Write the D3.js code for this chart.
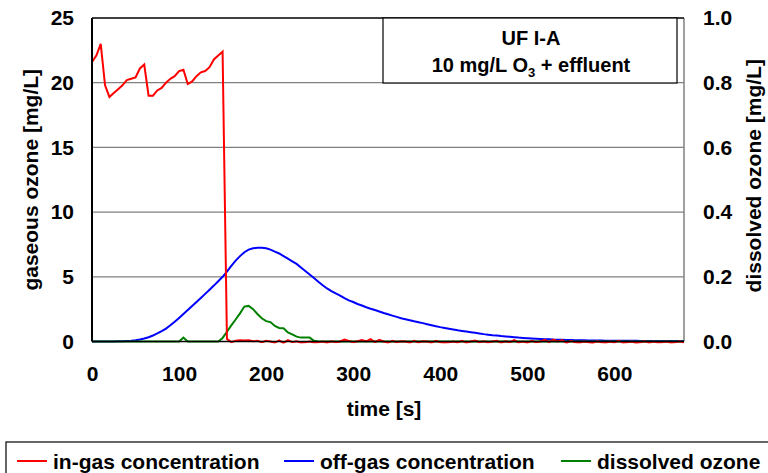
<!DOCTYPE html>
<html>
<head>
<meta charset="utf-8">
<script src="https://cdn.jsdelivr.net/npm/d3@7"></script>
<style>
  html, body { margin: 0; padding: 0; background: #fff; }
  svg { display: block; }
  text { font-family: "Liberation Sans", Arial, sans-serif; font-weight: bold; fill: #000; }
</style>
</head>
<body>
<svg id="chart" width="768" height="473"></svg>
<script>
// ---------- DATA ----------
const times = d3.range(0, 681, 5); // s, 5-second sampling

const inGas = [
  21.6, 22.1, 23.0, 19.8, 18.9, 19.2, 19.5, 19.8, 20.2, 20.3,
  20.4, 21.1, 21.4, 19.0, 19.0, 19.4, 19.6, 20.0, 20.3, 20.5,
  20.9, 21.0, 19.9, 20.1, 20.5, 20.8, 20.9, 21.2, 21.8, 22.1,
  22.4, 0.2,
  -0.05, 0.05, 0.1, 0.08, 0.1, 0.02, 0.05, -0.05, 0.05, 0.0,
  -0.1, 0.08, -0.12, 0.1, -0.05, 0.02, -0.1, -0.05, 0.0, -0.08,
  -0.05, 0.0, -0.1, 0.02, -0.05, 0.0, 0.15, 0.05, -0.05, 0.02,
  0.12, 0.0, 0.18, -0.05, 0.12, 0.0, -0.1, 0.05, -0.05, 0.02,
  0.0, -0.1, 0.05, -0.08, 0.02, 0.0, -0.1, 0.05, -0.05, -0.1,
  -0.05, 0.0, -0.08, 0.05, -0.1, 0.0, 0.08, -0.05, 0.02, -0.08,
  0.0, 0.05, -0.1, 0.02, -0.05, 0.1, -0.08, 0.0, -0.1, 0.05,
  -0.05, 0.0, 0.12, -0.05, 0.15, 0.0, 0.1, -0.1, 0.05, -0.05,
  -0.1, 0.0, -0.05, -0.12, 0.02, -0.05, -0.1, 0.0, -0.08, 0.05,
  -0.1, -0.05, 0.0, -0.12, -0.05, 0.02, -0.1, 0.0, -0.08, -0.05,
  0.0, -0.1, -0.05, 0.02, -0.08
];

const offGas = [
  0, 0, 0, 0, 0, 0, 0.01, 0.02, 0.04, 0.06,
  0.1, 0.15, 0.23, 0.33, 0.46, 0.62, 0.8, 1.0, 1.25, 1.52,
  1.82, 2.12, 2.43, 2.74, 3.05, 3.36, 3.68, 4.0, 4.32, 4.66,
  5.0, 5.4, 5.85, 6.25, 6.6, 6.9, 7.1, 7.2, 7.24, 7.24,
  7.2, 7.1, 6.95, 6.8, 6.6, 6.4, 6.2, 6.0, 5.72, 5.45,
  5.18, 4.9, 4.62, 4.35, 4.1, 3.9, 3.72, 3.55, 3.35, 3.18,
  3.05, 2.9, 2.78, 2.65, 2.53, 2.43, 2.32, 2.2, 2.1, 2.0,
  1.9, 1.8, 1.72, 1.64, 1.56, 1.49, 1.42, 1.34, 1.26, 1.18,
  1.11, 1.05, 0.99, 0.93, 0.87, 0.82, 0.77, 0.72, 0.67, 0.62,
  0.57, 0.53, 0.49, 0.46, 0.42, 0.39, 0.36, 0.33, 0.3, 0.28,
  0.26, 0.24, 0.22, 0.2, 0.18, 0.17, 0.15, 0.14, 0.13, 0.12,
  0.11, 0.1, 0.09, 0.09, 0.08, 0.08, 0.07, 0.07, 0.06, 0.06,
  0.06, 0.05, 0.05, 0.05, 0.05, 0.05, 0.04, 0.04, 0.04, 0.04,
  0.04, 0.03, 0.03, 0.03, 0.03, 0.03, 0.03
];

const dissolved = [
  0, 0, 0, 0, 0, 0, 0, 0, 0, 0,
  0, 0, 0, 0, 0, 0, 0, 0, 0, 0,
  0, 0.012, 0, 0, 0, 0, 0, 0, 0, 0,
  0.011, 0.03, 0.05, 0.068, 0.087, 0.108, 0.11, 0.1, 0.085, 0.072,
  0.063, 0.06, 0.048, 0.042, 0.041, 0.028, 0.022, 0.015, 0.012, 0.012,
  0.012, 0.002, 0, 0, 0, 0, 0, 0, 0, 0,
  0, 0, 0, 0, 0, 0, 0, 0, 0, 0,
  0, 0, 0, 0, 0, 0, 0, 0, 0, 0,
  0, 0, 0, 0, 0, 0, 0, 0, 0, 0,
  0, 0, 0, 0, 0, 0, 0, 0, 0, 0,
  0, 0, 0, 0, 0, 0, 0, 0, 0, 0,
  0, 0, 0, 0, 0, 0, 0, 0, 0, 0,
  0, 0, 0, 0, 0, 0, 0, 0, 0, 0,
  0, 0, 0, 0, 0, 0, 0
];

const xTicks = [0, 100, 200, 300, 400, 500, 600];
const yLeftTicks = [0, 5, 10, 15, 20, 25];
const yRightTicks = [0, 0.2, 0.4, 0.6, 0.8, 1.0];
const seriesNames = ["in-gas concentration", "off-gas concentration", "dissolved ozone"];
const seriesColors = ["#ff0000", "#0000ff", "#008000"];

// ---------- LAYOUT ----------
const plot = { left: 92, right: 684, top: 18, bottom: 341.5 };
const svg = d3.select("#chart");

const x = d3.scaleLinear().domain([0, 680]).range([plot.left, plot.right]);
const yL = d3.scaleLinear().domain([0, 25]).range([plot.bottom, plot.top]);
const yR = d3.scaleLinear().domain([0, 1.0]).range([plot.bottom, plot.top]);

// gridlines
svg.append("g").selectAll("line")
  .data(yLeftTicks.filter(v => v > 0 && v < 25))
  .join("line")
  .attr("x1", plot.left).attr("x2", plot.right)
  .attr("y1", d => yL(d)).attr("y2", d => yL(d))
  .attr("stroke", "#808080").attr("stroke-width", 1.2);

// plot border
svg.append("line").attr("x1", plot.right).attr("x2", plot.right)
  .attr("y1", plot.top).attr("y2", plot.bottom).attr("stroke", "#808080").attr("stroke-width", 1.5);
svg.append("line").attr("x1", plot.left).attr("x2", plot.right)
  .attr("y1", plot.top).attr("y2", plot.top).attr("stroke", "#000").attr("stroke-width", 1.5);

// axes
const axL = svg.append("g").attr("transform", `translate(${plot.left},0)`)
  .call(d3.axisLeft(yL).tickValues(yLeftTicks).tickSize(0).tickPadding(18).tickFormat(d3.format("d")));
const axR = svg.append("g").attr("transform", `translate(${plot.right},0)`)
  .call(d3.axisRight(yR).tickValues(yRightTicks).tickSize(0).tickPadding(19).tickFormat(d3.format(".1f")));
const axB = svg.append("g").attr("transform", `translate(0,${plot.bottom})`)
  .call(d3.axisBottom(x).tickValues(xTicks).tickSize(0).tickPadding(25).tickFormat(d3.format("d")));
[axL, axR, axB].forEach(a => {
  a.selectAll("text").style("font-size", "21px").style("font-family", "'Liberation Sans', Arial, sans-serif").style("font-weight", "bold");
  a.select(".domain").remove();
});
axB.selectAll("text").attr("dy", "0.71em");

// series
const clipId = "plotclip";
svg.append("clipPath").attr("id", clipId).append("rect")
  .attr("x", plot.left).attr("y", plot.top).attr("width", plot.right - plot.left).attr("height", plot.bottom - plot.top + 2);
const gLines = svg.append("g").attr("clip-path", `url(#${clipId})`);

const lineL = d3.line().x((d, i) => x(times[i])).y(d => yL(d));
const lineR = d3.line().x((d, i) => x(times[i])).y(d => yR(d));

gLines.append("path").datum(offGas).attr("d", lineL)
  .attr("fill", "none").attr("stroke", seriesColors[1]).attr("stroke-width", 2);
gLines.append("path").datum(dissolved).attr("d", lineR)
  .attr("fill", "none").attr("stroke", seriesColors[2]).attr("stroke-width", 2);
gLines.append("path").datum(inGas).attr("d", lineL)
  .attr("fill", "none").attr("stroke", seriesColors[0]).attr("stroke-width", 2);

// left & bottom axis lines (on top)
svg.append("line").attr("x1", plot.left).attr("x2", plot.left)
  .attr("y1", plot.top).attr("y2", plot.bottom).attr("stroke", "#000").attr("stroke-width", 2);
svg.append("line").attr("x1", plot.left).attr("x2", plot.right)
  .attr("y1", plot.bottom).attr("y2", plot.bottom).attr("stroke", "#000").attr("stroke-width", 1.5);

// axis titles
svg.append("text").attr("transform", `translate(38,${(plot.top + plot.bottom) / 2}) rotate(-90)`)
  .attr("text-anchor", "middle").style("font-size", "21px").text("gaseous ozone [mg/L]");
svg.append("text").attr("transform", `translate(761,${(plot.top + plot.bottom) / 2 - 4}) rotate(-90)`)
  .attr("text-anchor", "middle").style("font-size", "21px").text("dissolved ozone [mg/L]");
svg.append("text").attr("x", (plot.left + plot.right) / 2 - 4).attr("y", 416)
  .attr("text-anchor", "middle").style("font-size", "21px").text("time [s]");

// annotation box
svg.append("rect").attr("x", 383).attr("y", plot.top).attr("width", 294).attr("height", 65)
  .attr("fill", "#fff").attr("stroke", "#000").attr("stroke-width", 1.2);
svg.append("text").attr("x", 531).attr("y", 45).attr("text-anchor", "middle")
  .style("font-size", "20px").text("UF I-A");
const t2 = svg.append("text").attr("x", 531).attr("y", 72).attr("text-anchor", "middle").style("font-size", "20px");
t2.append("tspan").text("10 mg/L O");
t2.append("tspan").attr("dy", 5).style("font-size", "13px").text("3");
t2.append("tspan").attr("dy", -5).text(" + effluent");

// legend
svg.append("rect").attr("x", 6).attr("y", 442).attr("width", 770).attr("height", 40)
  .attr("fill", "none").attr("stroke", "#000").attr("stroke-width", 1.2);
const legendX = [17, 284, 561];
const lg = svg.append("g").selectAll("g").data(seriesNames).join("g")
  .attr("transform", (d, i) => `translate(${legendX[i]},461)`);
lg.append("line").attr("x1", 0).attr("x2", 30).attr("y1", 0).attr("y2", 0)
  .attr("stroke", (d, i) => seriesColors[i]).attr("stroke-width", 2);
lg.append("text").attr("x", 36).attr("y", 7.5).style("font-size", "21px").text(d => d);
</script>
</body>
</html>
